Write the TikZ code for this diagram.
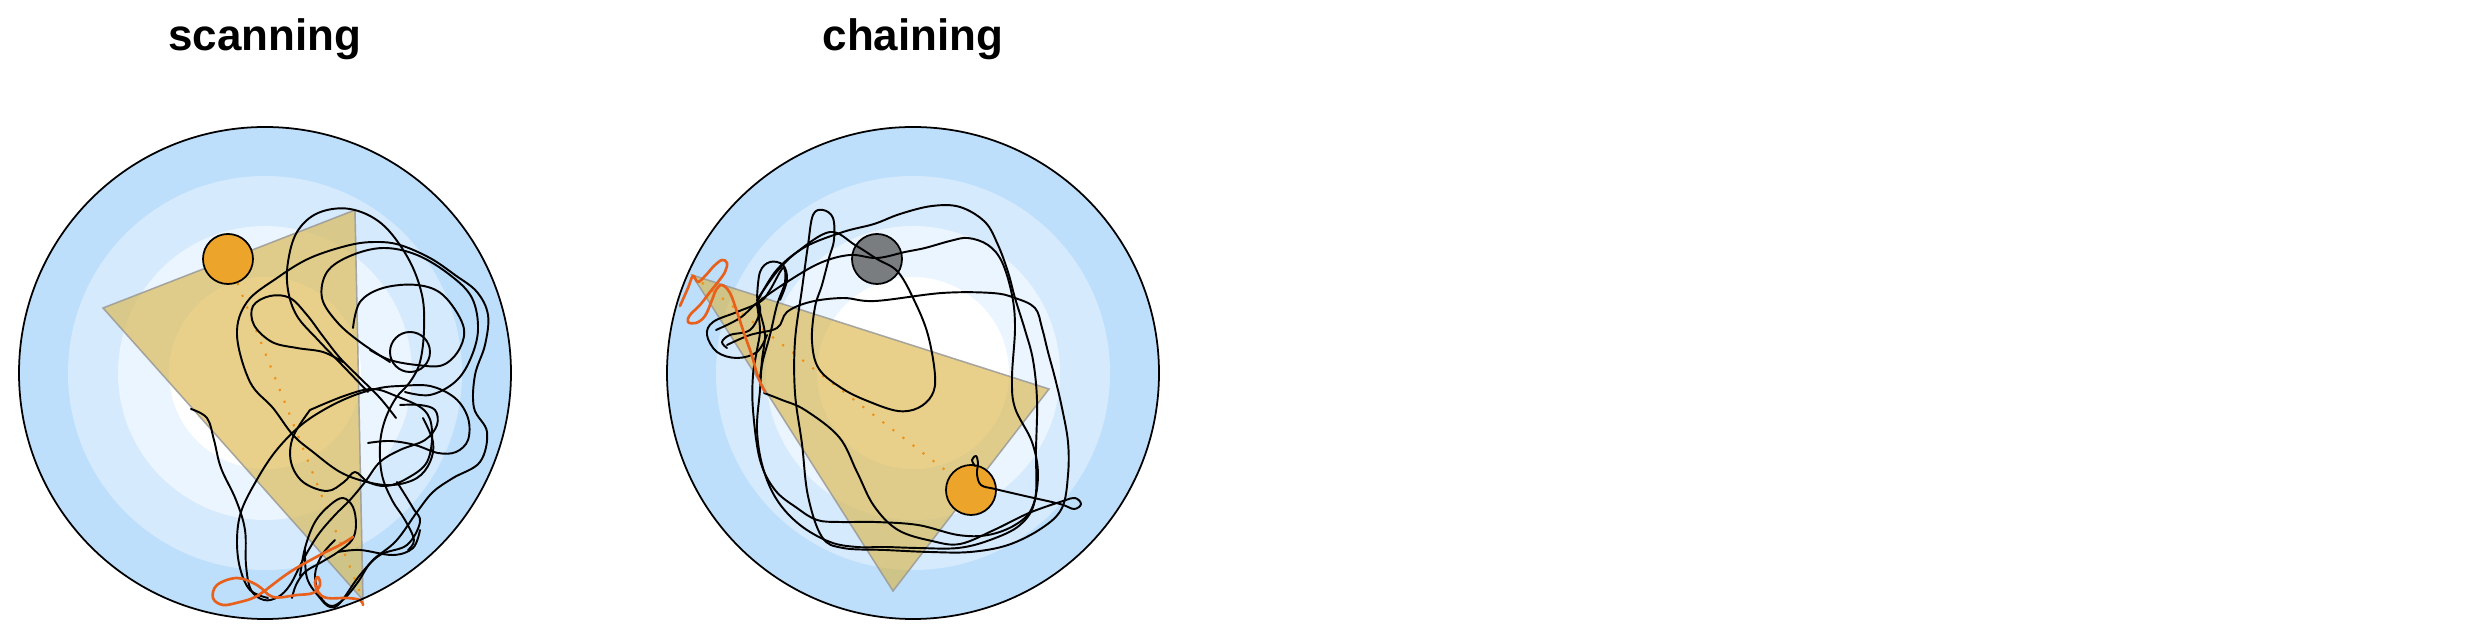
\documentclass[tikz,border=0pt]{standalone}
\usepackage{fontspec}
\setmainfont{Liberation Sans}
\definecolor{ringA}{HTML}{BDDFFB}
\definecolor{ringB}{HTML}{D6EAFD}
\definecolor{ringC}{HTML}{EBF5FF}
\definecolor{ringD}{HTML}{FFFFFF}
\definecolor{triFill}{RGB}{218,178,60}
\definecolor{discOrange}{HTML}{EDA42B}
\definecolor{discGray}{HTML}{7A7D80}
\definecolor{pathOrange}{HTML}{E8601C}
\begin{document}
\begin{tikzpicture}[x=0.01cm,y=-0.01cm,
  traj/.style={line width=0.55pt, line join=round, line cap=round, black},
  otraj/.style={line width=0.75pt, line join=round, line cap=round, pathOrange},
  disc/.style={circle, draw=black, line width=0.5pt, minimum size=0.5cm, inner sep=0pt},
  tri/.style={fill=triFill, fill opacity=0.6, draw=gray!80, draw opacity=0.6, line width=0.4pt},
  guide/.style={pathOrange!70!yellow, line width=0.6pt, dash pattern=on 0.6pt off 3pt},
  title/.style={font=\bfseries\fontsize{12.5}{14}\selectfont, anchor=base}]
\useasboundingbox (0,0) rectangle (2480,640);

% ---------- titles ----------
\node[title] (t1) at (265,51) {scanning};
\node[title] (t2) at (913,51) {chaining};

% ---------- arenas ----------
\foreach \cx in {265,913}{
  \fill[ringA] (\cx,373) circle (246);
  \fill[ringB] (\cx,373) circle (197);
  \fill[ringC] (\cx,373) circle (147);
  \fill[ringD] (\cx,373) circle (96);
}

% ---------- scanning ----------
\coordinate (sA) at (103,308);
\coordinate (sB) at (355,210);
\coordinate (sC) at (363,600);
\fill[tri] (sA) -- (sB) -- (sC) -- cycle;
\draw[tri, fill=none] (sA) -- (sB) -- (sC) -- cycle;

\node[disc, fill=discOrange] (s1) at (228,259) {};
\draw[guide] (s1) -- (sC);

\draw[traj] plot[smooth, tension=0.6] coordinates {(191,409) (207,418) (214,440) (221,468) (236,500) (245,530) (246,565) (251,590) (264,600) (278,597) (290,585) (303,560) (318,535) (335,515) (350,500) (365,482) (380,462) (400,450) (425,440) (437,425) (435,410) (420,405) (400,405)};
\draw[traj] plot[smooth, tension=0.6] coordinates {(268,598) (250,590) (240,568) (237,540) (241,512) (255,483) (275,452) (300,426) (327,408) (355,395) (380,388) (400,386) (430,386) (455,398) (468,418) (468,440) (456,452) (438,453) (415,445) (390,441) (368,443)};
\draw[traj] plot[smooth, tension=0.6] coordinates {(368,392) (345,368) (318,340) (297,316) (288,290) (288,262) (297,232) (318,213) (350,209) (382,224) (408,258) (422,295) (424,330) (420,362) (410,382) (396,398) (385,420) (380,445) (382,475) (392,500) (405,520) (414,540) (408,550)};
\draw[traj] plot[smooth, tension=0.6] coordinates {(343,362) (323,352) (297,348) (272,342) (254,325) (253,306) (270,296) (290,298) (307,315) (322,335) (340,358) (360,378) (380,398) (396,418)};
\draw[traj] plot[smooth, tension=0.6] coordinates {(423,418) (433,442) (430,462) (417,478) (393,485) (367,482) (340,472) (313,452) (293,435) (273,408) (250,382) (237,335) (247,302) (277,278) (310,258) (350,245) (377,242) (400,245) (430,258) (455,275) (477,292) (488,315) (485,345) (475,375) (474,408) (487,432) (480,462) (453,478) (433,492) (417,512) (396,541) (372,561) (358,582) (344,599) (331,606) (320,596) (315,575) (322,555) (335,540)};
\draw[traj] plot[smooth, tension=0.6] coordinates {(390,362) (360,342) (337,322) (322,298) (327,272) (350,256) (383,248) (417,255) (450,275) (472,298) (478,330) (470,360) (455,382) (430,395) (405,392)};
\draw[traj] plot[smooth, tension=0.6] coordinates {(353,328) (360,302) (383,288) (417,285) (443,295) (463,325) (460,348) (443,365) (417,365) (390,360) (370,350)};
\draw[traj] (410,352) circle (20);
\draw[traj] plot[smooth, tension=0.6] coordinates {(310,410) (344,396) (372,389) (396,396) (424,410) (432,431) (427,462) (406,479) (386,486) (368,482) (355,472) (344,482) (327,491) (303,482) (291,462) (293,437) (310,410)};
\draw[traj] plot[smooth, tension=0.6] coordinates {(300,576) (305,548) (315,522) (330,505) (343,498) (353,507) (356,525) (352,540) (338,552) (320,563) (305,572) (296,585) (292,598)};
\draw[traj] plot[smooth, tension=0.6] coordinates {(305,548) (307,578) (320,598) (330,607) (340,603) (360,575) (380,555) (407,545) (420,522) (413,508) (397,482)};
\draw[traj] plot[smooth, tension=0.6] coordinates {(338,552) (360,550) (393,555) (413,548) (420,530)};

\draw[otraj] plot[smooth, tension=0.6] coordinates {(353,537) (340,545) (320,555) (290,572) (263,592) (253,598) (240,602) (223,605) (213,598) (217,585) (237,578) (257,585) (273,597) (297,595) (313,593) (320,585) (318,577) (315,582) (318,592) (327,598) (347,598) (360,600) (363,605)};

% ---------- chaining ----------
\coordinate (cA) at (692,275);
\coordinate (cB) at (1049,389);
\coordinate (cC) at (893,591);
\fill[tri] (cA) -- (cB) -- (cC) -- cycle;
\draw[tri, fill=none] (cA) -- (cB) -- (cC) -- cycle;

\node[disc, fill=discGray] (c1) at (877,259) {};
\node[disc, fill=discOrange] (c2) at (971,490) {};
\draw[guide] (cA) -- (c2);

% outer loop 1
\draw[traj] plot[smooth, tension=0.6] coordinates {(757,300) (780,268) (805,247) (843,232) (874,224) (900,214) (932,206) (960,207) (985,222) (998,245) (1008,272) (1015,298) (1025,330) (1033,360) (1037,400) (1036,450) (1035,500) (1020,525) (990,540) (958,548) (918,548) (885,547) (857,547) (830,542) (800,525) (777,500) (763,468) (757,430) (760,390) (762,360) (765,335) (760,312) (757,300)};
% outer loop 2
\draw[traj] plot[smooth, tension=0.6] coordinates {(716,330) (740,318) (758,302) (787,282) (820,263) (850,255) (877,258) (905,252) (925,248) (950,241) (968,238) (988,245) (1002,262) (1012,295) (1015,328) (1012,378) (1015,408) (1032,442) (1038,475) (1032,508) (1015,525) (988,535) (958,535) (918,525) (875,522) (840,522) (817,520) (797,508) (775,490) (760,460) (753,410) (753,375) (757,350) (760,330) (757,305)};
% outer loop 3, tall loop, inner loop
\draw[traj] plot[smooth, tension=0.6] coordinates {(727,345) (750,335) (777,328) (787,312) (810,302) (843,298) (875,301) (942,293) (992,293) (1015,298) (1035,308) (1042,328) (1048,352) (1055,378) (1062,408) (1068,442) (1068,475) (1062,508) (1042,528) (1008,545) (970,552) (930,552) (885,550) (843,548) (822,537) (808,496) (802,444) (795,393) (795,341) (802,289) (808,245) (813,215) (823,210) (833,218) (834,240) (829,258) (822,285) (815,307) (812,341) (819,369) (843,389) (870,402) (898,411) (918,408) (932,395) (935,375) (928,335) (915,302) (898,272) (877,259) (855,245) (830,232) (797,252) (775,272) (758,300)};
% left small loops
\draw[traj] plot[smooth, tension=0.6] coordinates {(767,335) (757,352) (737,358) (717,352) (707,335) (713,322) (737,312) (760,302) (770,290) (783,268) (785,282) (777,305) (770,335) (763,360) (760,378)};
\draw[traj] plot[smooth, tension=0.6] coordinates {(757,298) (760,272) (770,262) (783,265) (787,280) (780,300)};
\draw[traj] plot[smooth, tension=0.6] coordinates {(727,348) (722,342) (730,335) (750,330) (760,312) (758,302)};
% diagonal and tail to orange disc
\draw[traj] plot[smooth, tension=0.6] coordinates {(764,393) (782,400) (805,410) (839,437) (857,472) (874,506) (898,530) (932,541) (960,544) (994,530) (1029,513) (1063,501) (1075,498) (1081,504) (1074,509) (1060,504) (1025,496) (995,489) (981,485) (977,474) (978,463) (976,456) (972,460) (975,466)};

\draw[otraj] plot[smooth, tension=0.6] coordinates {(680,306) (688,288) (693,276) (698,282) (706,275) (714,266) (722,260) (727,263) (725,272) (718,282) (710,292) (700,305) (690,315) (688,322) (696,323) (705,316) (712,300) (716,290) (722,285) (730,293) (737,312) (744,333) (752,356) (758,377) (765,392)};

% ---------- outlines ----------
\draw[black, line width=0.5pt] (265,373) circle (246);
\draw[black, line width=0.5pt] (913,373) circle (246);
\end{tikzpicture}
\end{document}
